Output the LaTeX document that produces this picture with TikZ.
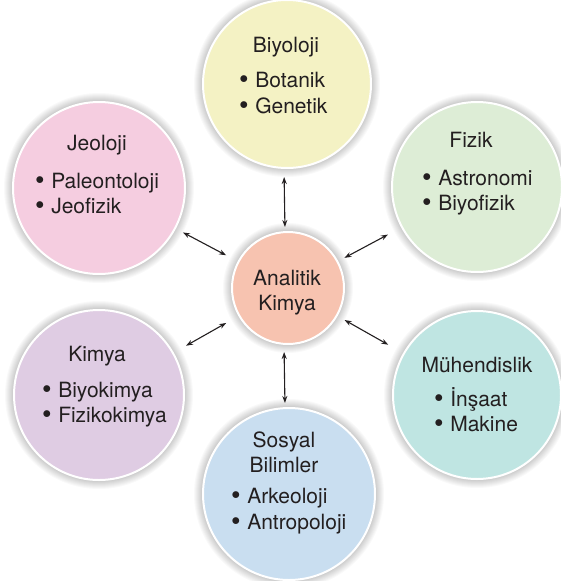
\documentclass[tikz,border=0pt]{standalone}
\usepackage{fontspec}
\setmainfont{TeX Gyre Heros}
\usetikzlibrary{arrows.meta}
\pgfdeclarelayer{paper}
\pgfdeclarelayer{shade}
\pgfsetlayers{paper,shade,main}
\definecolor{txt}{HTML}{231F20}
\definecolor{cBio}{HTML}{F4F2C4}
\definecolor{cJeo}{HTML}{F5CDE0}
\definecolor{cFiz}{HTML}{DDEDD6}
\definecolor{cMuh}{HTML}{BFE5E2}
\definecolor{cKim}{HTML}{DFCCE3}
\definecolor{cSos}{HTML}{C9DEF0}
\definecolor{cAna}{HTML}{F7C3B0}
\newcommand{\blt}[1]{\raisebox{-1.2pt}{\scalebox{1.3}{\textbullet}}\hspace{6.5pt}#1}
\tikzset{
  field/.style={circle, draw=white, line width=2pt, inner sep=0pt, minimum size=#1},
  ttl/.style={anchor=base, inner sep=0pt, text=txt, font=\fontsize{21}{25}\selectfont},
  itm/.style={anchor=base west, inner sep=0pt, text=txt, font=\fontsize{21}{25}\selectfont},
  link/.style={{Stealth[length=7pt,width=5pt]}-{Stealth[length=7pt,width=5pt]}, line width=1.1pt, draw=txt},
  glow/.style={fill=black, fill opacity=0.022}
}
\begin{document}
\begin{tikzpicture}[x=1pt,y=-1pt]
\useasboundingbox (0,0) rectangle (561,581);
\begin{pgfonlayer}{paper}
\fill[white] (0,0) rectangle (561,581);
\end{pgfonlayer}
% circles
\node[field=168pt, fill=cBio] (bio) at (287,84) {};
\node[field=172pt, fill=cJeo] (jeo) at (99,188) {};
\node[field=170pt, fill=cFiz] (fiz) at (477,187) {};
\node[field=168pt, fill=cMuh] (muh) at (477,395) {};
\node[field=170pt, fill=cKim] (kim) at (99,395) {};
\node[field=172pt, fill=cSos] (sos) at (289,494) {};
\node[field=112pt, fill=cAna] (ana) at (288,288) {};
% soft shadows
\begin{pgfonlayer}{shade}
\foreach \n/\r in {bio/85, jeo/87, fiz/86, muh/85, kim/86, sos/87, ana/57}{
  \foreach \k in {0,1,...,8}{
    \fill[glow] (\n.center) circle ({\r+\k});
  }
}
\end{pgfonlayer}
% texts
\node[ttl] (bioT) at (286,52) {Biyoloji};
\node[itm] (bioA) at (239,87) {\blt{Botanik}};
\node[itm] (bioB) at (239,113) {\blt{Genetik}};

\node[ttl] (jeoT) at (97,150) {Jeoloji};
\node[itm] (jeoA) at (35,188) {\blt{Paleontoloji}};
\node[itm] (jeoB) at (35,213) {\blt{Jeofizik}};

\node[ttl] (fizT) at (471,147) {Fizik};
\node[itm] (fizA) at (422,185) {\blt{Astronomi}};
\node[itm] (fizB) at (422,210) {\blt{Biyofizik}};

\node[ttl] (muhT) at (477,372) {Mühendislik};
\node[itm] (muhA) at (434,406) {\blt{İnşaat}};
\node[itm] (muhB) at (434,431) {\blt{Makine}};

\node[ttl] (kimT) at (97,361) {Kimya};
\node[itm] (kimA) at (42,397) {\blt{Biyokimya}};
\node[itm] (kimB) at (42,422) {\blt{Fizikokimya}};

\node[ttl] (sosT) at (284,447) {Sosyal};
\node[ttl] (sosU) at (284,472) {Bilimler};
\node[itm] (sosA) at (231,503) {\blt{Arkeoloji}};
\node[itm] (sosB) at (231,529) {\blt{Antropoloji}};

\node[ttl] (anaT) at (287,285) {Analitik};
\node[ttl] (anaU) at (287,310) {Kimya};
% connectors
\draw[link, shorten <=8pt, shorten >=4pt] ([xshift=-3pt]bio.south) -- ([xshift=-3pt]ana.north);
\draw[link, shorten <=7pt, shorten >=4pt] ([xshift=-4pt]ana.south) -- ([xshift=-4pt]sos.north);
\draw[link, shorten <=8pt, shorten >=13pt] (jeo) -- (ana);
\draw[link, shorten <=15pt, shorten >=7pt] (fiz) -- (ana);
\draw[link, shorten <=17pt, shorten >=8pt] (muh) -- (ana);
\draw[link, shorten <=14pt, shorten >=14pt] (kim) -- (ana);
\end{tikzpicture}
\end{document}
